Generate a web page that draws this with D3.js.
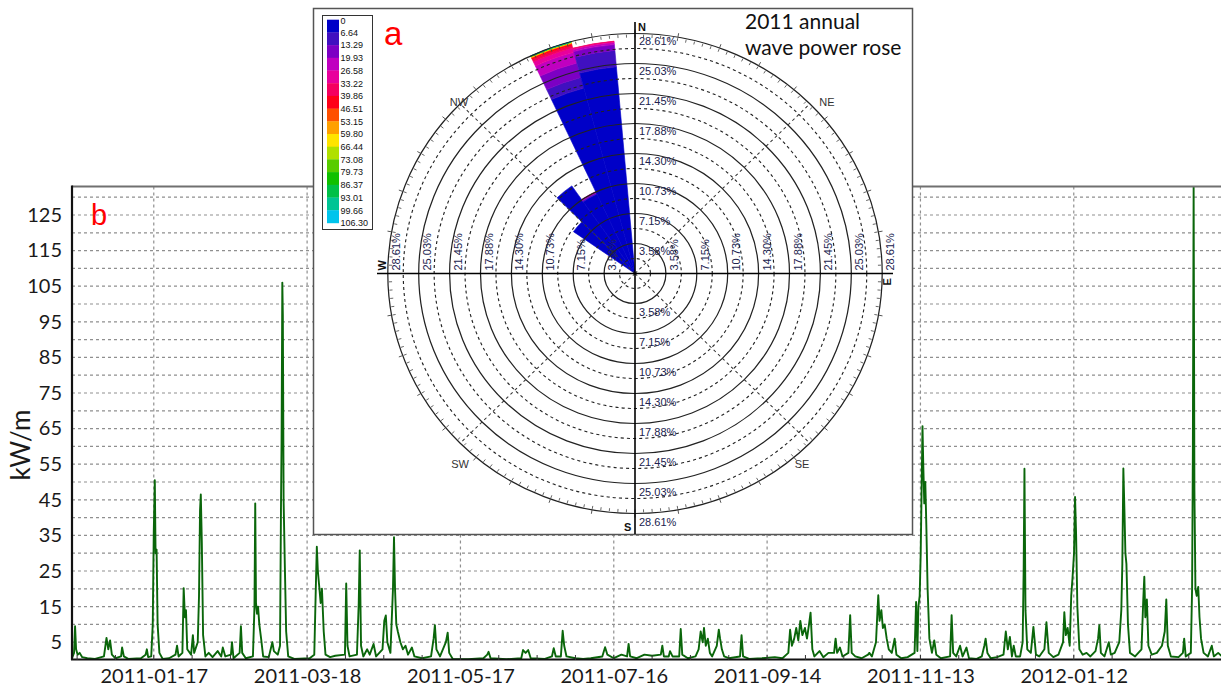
<!DOCTYPE html>
<html>
<head>
<meta charset="utf-8">
<script src="https://cdn.jsdelivr.net/npm/d3@7"></script>
<style>
  body { margin: 0; background: #fff; }
  svg { display: block; }
</style>
</head>
<body>
<svg id="chart" width="1221" height="688"></svg>
<script>
// ---------- data: panel b, wave power time series ----------
const startDate = new Date(2010, 11, 16);
const endDate = new Date(2012, 2, 10);
const yMax = 133;
const majorTickDates = ["2011-01-17", "2011-03-18", "2011-05-17", "2011-07-16", "2011-09-14", "2011-11-13", "2012-01-12"];
const minorTickStart = "2010-12-18";
const yTickValues = [5, 15, 25, 35, 45, 55, 65, 75, 85, 95, 105, 115, 125];

// [days after startDate, kW/m]
const wavePower = [
  [0.0, 0.5], [0.8, 2], [1.2, 9.5], [1.6, 3], [2.2, 1.5], [3.0, 2], [4.0, 0.8], [6, 0.5], [9, 0.3],
  [12.5, 1], [13.5, 6.2], [14.2, 3], [14.9, 5.5], [15.6, 1.5], [17, 0.5], [19.2, 1], [19.6, 3.5], [20.3, 1],
  [22, 0.3], [27, 0.5], [28.8, 1.5], [29.3, 3], [29.8, 0.8], [31.0, 1], [31.6, 10], [32.0, 36], [32.4, 50.5],
  [32.7, 30], [33.1, 31], [33.5, 10], [34.2, 2], [35.5, 0.3], [38, 0.5], [40.5, 1.5], [41.1, 4], [41.7, 1],
  [43.2, 2], [43.7, 20.2], [44.2, 12], [44.6, 14], [45.1, 3], [46.6, 1.5], [47.3, 7], [47.8, 2], [49.2, 5],
  [49.7, 18], [50.1, 42], [50.4, 46.5], [50.8, 33], [51.3, 7], [52.2, 1], [53.5, 2], [55, 0.8], [57, 2.5],
  [58.4, 1], [59, 3.5], [60, 1], [62.2, 1.5], [62.6, 5], [63.2, 0.5], [65.6, 2], [66.1, 9.5], [66.6, 2],
  [68, 0.5], [70.8, 1], [71.4, 15], [71.7, 44], [72.0, 16], [72.4, 13], [72.8, 15], [73.3, 10], [74.0, 6],
  [74.8, 1], [77, 0.8], [78.4, 5], [79, 2.5], [80.5, 1.5], [81.4, 4], [81.8, 45], [82.0, 61], [82.3, 106],
  [82.5, 97], [82.8, 45], [83.3, 26], [83.8, 8], [84.6, 1], [87, 0.3], [93, 0.5], [94.8, 1.5], [95.4, 20],
  [95.8, 31.8], [96.2, 25], [96.7, 21], [97.3, 16], [97.8, 20], [98.5, 8], [99.2, 1.5], [101, 0.8], [103, 1.2],
  [106.8, 1.5], [107.3, 21.5], [107.8, 4], [108.6, 1], [111.5, 1.5], [112.2, 16], [112.6, 30.8], [113.1, 4],
  [114, 1], [115.5, 3], [116.5, 1.5], [118, 4.5], [119, 1], [121.5, 3], [122.2, 11], [122.8, 12.5], [123.4, 5],
  [124.6, 2], [125.6, 20], [126.0, 34.5], [126.4, 20], [126.9, 10], [127.5, 8], [128.5, 5], [129.5, 3],
  [130.5, 4], [131.5, 1.5], [133, 3.5], [134, 1], [137, 0.5], [140.5, 1], [141.5, 6], [142, 9.8], [142.6, 3],
  [144, 1], [146.3, 5], [147, 7.7], [147.6, 2], [149, 0.3], [155, 0.2], [161, 0.5], [162.5, 1.5], [163, 2.3],
  [163.8, 0.5], [170, 0.2], [175.8, 0.5], [176.5, 2.8], [177.5, 2], [178.5, 2.8], [179.5, 0.5], [185, 0.3],
  [187.8, 1], [188.5, 3.3], [189.3, 1], [191.3, 1], [192, 8.2], [192.6, 4], [193.5, 1], [197, 0.5], [200, 0.3],
  [203, 0.5], [207.5, 1], [208.6, 3.6], [209.5, 1.5], [212, 0.5], [215, 1.5], [217.2, 1], [217.8, 4.5],
  [218.4, 1], [221, 0.5], [224, 1.5], [227, 1.2], [230.4, 1.5], [231, 4], [231.6, 1], [233.5, 1], [234, 2.5],
  [235, 1], [237.6, 1], [238.2, 8.7], [238.8, 1.5], [241, 0.5], [244, 1], [245.2, 3], [246, 8], [246.8, 5],
  [247.3, 9], [248, 4], [248.8, 6], [249.6, 2], [250.5, 1], [252.3, 4], [253.1, 8.5], [253.6, 6], [254.3, 3],
  [255.2, 1], [257, 0.5], [261.4, 1], [262, 7], [262.6, 1], [265, 0.3], [270, 0.5], [275, 0.8], [278, 0.5],
  [280.3, 2], [281, 8.5], [281.7, 4], [282.6, 6], [283.4, 9], [284.2, 5.5], [285, 11], [285.8, 7], [286.8, 9],
  [287.6, 6], [288.4, 10], [289, 13.3], [289.7, 3], [290.5, 1], [292.5, 2.5], [294, 0.8], [296, 2], [298.2, 2],
  [298.8, 6], [299.4, 2], [300.5, 3.5], [301.5, 1], [303.8, 2], [304.5, 12.6], [305.1, 2], [306.5, 1],
  [309, 0.5], [311.5, 1.5], [312, 2], [313, 1], [314.6, 5], [315.2, 14], [315.5, 18.2], [316, 11], [316.7, 14],
  [317.3, 9], [318, 10], [318.8, 6], [319.6, 3], [320.8, 2], [321.9, 6], [322.6, 1.5], [324.5, 0.5], [327, 0.8],
  [329.7, 2], [330.3, 16.3], [330.8, 2.5], [331.2, 15], [331.7, 18], [332.1, 30], [332.5, 50], [332.8, 65.7],
  [333.1, 55], [333.5, 44], [333.9, 50], [334.3, 38], [334.8, 20], [335.5, 6], [336.5, 2], [337.4, 5.5],
  [338.2, 1.5], [340, 0.5], [343.6, 1], [344.2, 12.6], [344.8, 2], [346, 1], [347.5, 4], [348.5, 1], [350, 3.5],
  [351, 0.5], [354, 0.3], [356, 1], [357, 4], [357.5, 6], [358.2, 2], [359.5, 0.5], [362, 0.8], [364.5, 1.5],
  [365.4, 8], [366.2, 3], [367, 6.5], [367.8, 1], [368.5, 4], [369.3, 1], [371, 1], [372, 5], [372.4, 26],
  [372.7, 53.7], [373.1, 14], [373.8, 3], [375.2, 2], [376.2, 9.3], [377.2, 1.5], [378.5, 1], [380.5, 3],
  [381.3, 10.6], [382.2, 2], [384, 0.8], [386, 1.5], [387.8, 5], [388.3, 13.4], [388.9, 7], [389.6, 9],
  [390.4, 4], [391.0, 18], [391.5, 23], [392.1, 30], [392.5, 45.8], [392.9, 35.6], [393.4, 15], [394.2, 3],
  [395.5, 1.5], [397, 2], [398.5, 1], [400.5, 2.5], [401.5, 6], [402, 9.8], [402.6, 2], [404, 1], [405.7, 5],
  [406.5, 1.5], [408, 2], [409.8, 5], [410.6, 14], [411.0, 27], [411.4, 53.8], [411.8, 42.6], [412.2, 30],
  [412.6, 27], [413.2, 10], [414, 2], [416, 1], [418.5, 3], [419.2, 17], [419.6, 23.4], [420.0, 12], [420.6, 17],
  [421.2, 4], [422.5, 1.5], [424.5, 2], [426.5, 4], [427.6, 8], [428.2, 17], [428.8, 4], [430, 1], [433, 0.8],
  [434.7, 2], [435.2, 6], [435.8, 1], [437.8, 2], [438.3, 20], [438.6, 58.9], [438.9, 133], [439.2, 48],
  [439.6, 20], [440.1, 18], [440.7, 20.5], [441.2, 12], [441.8, 6], [442.8, 2], [444.5, 1], [446, 4],
  [446.8, 1], [448.5, 2], [450, 1]
];

// ---------- data: panel a, wave power rose ----------
const roseDirections = [-50, -40, -30, -20, -10];   // bin centre, degrees from north
const roseBinWidth = 10;
const roseMax = 28.61;
const ringLabels = ["3.58%", "7.15%", "10.73%", "14.30%", "17.88%", "21.45%", "25.03%", "28.61%"];
const classBounds = ["0", "6.64", "13.29", "19.93", "26.58", "33.22", "39.86", "46.51", "53.15", "59.80",
  "66.44", "73.08", "79.73", "86.37", "93.01", "99.66", "106.30"];
const classColors = ["#0000c8", "#4010c0", "#7c00c4", "#c000c0", "#e8009c", "#f50060", "#ff0018", "#ff5000",
  "#ffa000", "#ffe400", "#b0e000", "#58cc00", "#10c000", "#00c048", "#00c494", "#00c4ec"];
// % of time per direction (rows) and power class (columns)
const roseFreq = [
  [8.70, 0, 0, 0, 0, 0, 0, 0, 0, 0, 0, 0, 0, 0, 0, 0],
  [12.75, 0, 0, 0, 0, 0, 0, 0, 0, 0, 0, 0, 0, 0, 0, 0],
  [10.45, 0.10, 0.08, 0.08, 0.05, 0, 0, 0, 0, 0, 0, 0, 0, 0, 0, 0],
  [22.88, 1.31, 1.79, 1.31, 0.55, 0.30, 0.22, 0.06, 0.05, 0.04, 0.03, 0.02, 0.02, 0.01, 0.01, 0.01],
  [24.73, 1.97, 0.69, 0.24, 0.14, 0.03, 0, 0, 0, 0, 0, 0, 0, 0, 0, 0]
];
const compassLabels = [
  {t: "NE", dx: 192, dy: -172}, {t: "NW", dx: -176, dy: -172},
  {t: "SW", dx: -175, dy: 190}, {t: "SE", dx: 167, dy: 190}
];

const svg = d3.select("#chart");
const parseDay = d3.timeParse("%Y-%m-%d");
const dayToDate = d => new Date(startDate.getTime() + d * 864e5);

// ================= panel b =================
const plotLeft = 72, plotRight = 1222, plotTop = 186.5, plotBottom = 660;
const x = d3.scaleTime().domain([startDate, endDate]).range([plotLeft, plotRight]);
const y = d3.scaleLinear().domain([0, yMax]).range([plotBottom, plotTop]);

const grid = svg.append("g");
grid.selectAll("line.h")
  .data(d3.range(5, yMax, 5))
  .join("line")
  .attr("x1", plotLeft).attr("x2", plotRight)
  .attr("y1", d => y(d)).attr("y2", d => y(d))
  .attr("stroke", "#8f8f8f").attr("stroke-width", 1.2).attr("stroke-dasharray", "3,3");

const majorDates = majorTickDates.map(parseDay);
grid.selectAll("line.v")
  .data(majorDates)
  .join("line")
  .attr("x1", d => x(d)).attr("x2", d => x(d))
  .attr("y1", plotTop).attr("y2", plotBottom)
  .attr("stroke", "#8f8f8f").attr("stroke-width", 1.2).attr("stroke-dasharray", "3,3");

svg.append("clipPath").attr("id", "plotClip")
  .append("rect").attr("x", plotLeft).attr("y", plotTop)
  .attr("width", plotRight - plotLeft).attr("height", plotBottom - plotTop);

const line = d3.line()
  .x(d => x(dayToDate(d[0])))
  .y(d => y(d[1]));

svg.append("path")
  .datum(wavePower)
  .attr("clip-path", "url(#plotClip)")
  .attr("fill", "none")
  .attr("stroke", "#0a660a")
  .attr("stroke-width", 1.9)
  .attr("stroke-linejoin", "round")
  .attr("d", line);

// frame
svg.append("line").attr("x1", plotLeft).attr("x2", plotRight).attr("y1", plotTop).attr("y2", plotTop)
  .attr("stroke", "#707070").attr("stroke-width", 2);
svg.append("line").attr("x1", plotLeft).attr("x2", plotLeft).attr("y1", plotTop - 1).attr("y2", plotBottom)
  .attr("stroke", "#111").attr("stroke-width", 2.2);
svg.append("line").attr("x1", plotLeft - 1).attr("x2", plotRight).attr("y1", plotBottom - 0.5).attr("y2", plotBottom - 0.5)
  .attr("stroke", "#111").attr("stroke-width", 2.2);

// minor ticks every 15 days
const minorDates = d3.timeDay.range(parseDay(minorTickStart), endDate, 15);
svg.append("g").selectAll("line")
  .data(minorDates)
  .join("line")
  .attr("x1", d => x(d)).attr("x2", d => x(d))
  .attr("y1", plotBottom - 5).attr("y2", plotBottom)
  .attr("stroke", "#333").attr("stroke-width", 1);

const axisFont = "Lato, 'Open Sans', sans-serif";

const xAxis = svg.append("g")
  .attr("transform", `translate(0,${plotBottom - 0.5})`)
  .call(d3.axisBottom(x).tickValues(majorDates).tickFormat(d3.timeFormat("%Y-%m-%d")).tickSize(0).tickPadding(9));
xAxis.select(".domain").remove();
xAxis.selectAll("text").attr("font-family", axisFont).attr("font-size", 20).attr("fill", "#1a1a1a");

const yAxis = svg.append("g")
  .attr("transform", `translate(${plotLeft},0)`)
  .call(d3.axisLeft(y).tickValues(yTickValues).tickSize(0).tickPadding(10));
yAxis.select(".domain").remove();
yAxis.selectAll("text").attr("font-family", axisFont).attr("font-size", 20).attr("fill", "#1a1a1a");

svg.append("text")
  .attr("transform", "translate(30,445) rotate(-90)")
  .attr("text-anchor", "middle")
  .attr("font-family", axisFont).attr("font-size", 26).attr("fill", "#1a1a1a")
  .text("kW/m");

svg.append("text")
  .attr("x", 91).attr("y", 225)
  .attr("font-family", "'Liberation Sans', Arial, sans-serif").attr("font-size", 29).attr("fill", "#ff0000")
  .text("b");

// ================= panel a =================
svg.append("rect")
  .attr("x", 313.5).attr("y", 8.5).attr("width", 599).attr("height", 526)
  .attr("fill", "#fff").attr("stroke", "#555").attr("stroke-width", 1.5);

const cx = 635, cy = 273.5, R = 240, sx = 1.03;
const rScale = d3.scaleLinear().domain([0, roseMax]).range([0, R]);
const rad = deg => deg * Math.PI / 180;
const geo = svg.append("g").attr("transform", `translate(${cx},${cy}) scale(${sx},1)`);

// stacked sectors
const arc = d3.arc();
const sectors = [];
roseDirections.forEach((dir, i) => {
  let acc = 0;
  roseFreq[i].forEach((v, k) => {
    if (v <= 0) return;
    sectors.push({dir, k, r0: acc, r1: acc + v});
    acc += v;
  });
});
geo.selectAll("path.sector")
  .data(sectors)
  .join("path")
  .attr("fill", d => classColors[d.k])
  .attr("stroke", d => classColors[d.k])
  .attr("stroke-width", 0.6)
  .attr("d", d => arc({
    innerRadius: rScale(d.r0),
    outerRadius: rScale(d.r1),
    startAngle: rad(d.dir - roseBinWidth / 2),
    endAngle: rad(d.dir + roseBinWidth / 2)
  }));

// rings
const ringValues = ringLabels.map((_, i) => roseMax * (i + 1) / ringLabels.length);
geo.selectAll("circle.half")
  .data(ringValues)
  .join("circle")
  .attr("r", d => rScale(d - roseMax / ringLabels.length / 2))
  .attr("fill", "none").attr("stroke", "#222").attr("stroke-width", 1.1).attr("stroke-dasharray", "3,3");
geo.selectAll("circle.full")
  .data(ringValues)
  .join("circle")
  .attr("r", d => rScale(d))
  .attr("fill", "none").attr("stroke", "#222").attr("stroke-width", 1.2);

// outer tick ring
geo.selectAll("line.minor")
  .data(d3.range(0, 360, 2))
  .join("line")
  .attr("x1", d => (R - 4) * Math.sin(rad(d))).attr("y1", d => -(R - 4) * Math.cos(rad(d)))
  .attr("x2", d => (R - 1) * Math.sin(rad(d))).attr("y2", d => -(R - 1) * Math.cos(rad(d)))
  .attr("stroke", "#444").attr("stroke-width", 0.8);
geo.selectAll("line.major")
  .data(d3.range(0, 360, 10))
  .join("line")
  .attr("x1", d => R * Math.sin(rad(d))).attr("y1", d => -R * Math.cos(rad(d)))
  .attr("x2", d => (R + 4) * Math.sin(rad(d))).attr("y2", d => -(R + 4) * Math.cos(rad(d)))
  .attr("stroke", "#444").attr("stroke-width", 0.9);

// diagonals
geo.selectAll("line.diag")
  .data([45, 135, 225, 315])
  .join("line")
  .attr("x1", 0).attr("y1", 0)
  .attr("x2", d => R * Math.sin(rad(d))).attr("y2", d => -R * Math.cos(rad(d)))
  .attr("stroke", "#333").attr("stroke-width", 1).attr("stroke-dasharray", "3,3");

// main axes
svg.append("line").attr("x1", cx).attr("x2", cx).attr("y1", 22).attr("y2", 534)
  .attr("stroke", "#000").attr("stroke-width", 1.6);
svg.append("line").attr("x1", 377).attr("x2", 893).attr("y1", cy).attr("y2", cy)
  .attr("stroke", "#000").attr("stroke-width", 1.6);

const roseFont = "'Liberation Sans Narrow', 'Liberation Sans', Arial, sans-serif";
const ringText = svg.append("g")
  .attr("font-family", roseFont).attr("font-size", 11).attr("fill", "#20224e");
ringLabels.forEach((t, i) => {
  const r = rScale(ringValues[i]);
  ringText.append("text").attr("x", cx + 4).attr("y", cy - r + 11).text(t);
  ringText.append("text").attr("x", cx + 4).attr("y", cy + r + 12).text(t);
  ringText.append("text").attr("transform", `translate(${cx + r * sx + 12},${cy - 3}) rotate(-90)`).text(t);
  ringText.append("text").attr("transform", `translate(${cx - r * sx + 12},${cy - 3}) rotate(-90)`).text(t);
});

const dirText = svg.append("g")
  .attr("font-family", roseFont).attr("font-size", 11).attr("fill", "#111");
dirText.append("text").attr("x", cx + 3).attr("y", 31).attr("font-weight", "bold").text("N");
dirText.append("text").attr("x", cx - 11).attr("y", 531).attr("font-weight", "bold").text("S");
dirText.append("text").attr("transform", `translate(386,${cy - 3}) rotate(-90)`).attr("font-weight", "bold").text("W");
dirText.append("text").attr("transform", `translate(891,${cy + 12}) rotate(-90)`).attr("font-weight", "bold").text("E");
dirText.selectAll("text.c")
  .data(compassLabels)
  .join("text")
  .attr("x", d => cx + d.dx).attr("y", d => cy + d.dy + 4)
  .attr("text-anchor", "middle").attr("fill", "#333")
  .text(d => d.t);

// legend
const legX = 322.5, legY = 15.5, boxTop = 19.7, boxH = 12.7;
svg.append("rect").attr("x", legX).attr("y", legY).attr("width", 50).attr("height", 214)
  .attr("fill", "#fff").attr("stroke", "#333").attr("stroke-width", 1);
svg.append("g").selectAll("rect")
  .data(classColors)
  .join("rect")
  .attr("x", 327).attr("y", (d, i) => boxTop + i * boxH)
  .attr("width", 12).attr("height", boxH + 0.3)
  .attr("fill", d => d);
svg.append("g").selectAll("text")
  .data(classBounds)
  .join("text")
  .attr("x", 340.5)
  .attr("y", (d, i) => i === 0 ? boxTop + 1.5 : boxTop + i * boxH + 0.3)
  .attr("dominant-baseline", "central")
  .attr("font-family", "'Liberation Sans', Arial, sans-serif").attr("font-size", 9).attr("fill", "#111")
  .text(d => d);

svg.append("text")
  .attr("x", 384).attr("y", 45)
  .attr("font-family", "'Liberation Sans', Arial, sans-serif").attr("font-size", 33).attr("fill", "#ff0000")
  .text("a");

const title = svg.append("text")
  .attr("font-family", axisFont).attr("font-size", 21).attr("fill", "#111");
title.append("tspan").attr("x", 745).attr("y", 29).text("2011 annual");
title.append("tspan").attr("x", 745).attr("y", 55).text("wave power rose");
</script>
</body>
</html>
